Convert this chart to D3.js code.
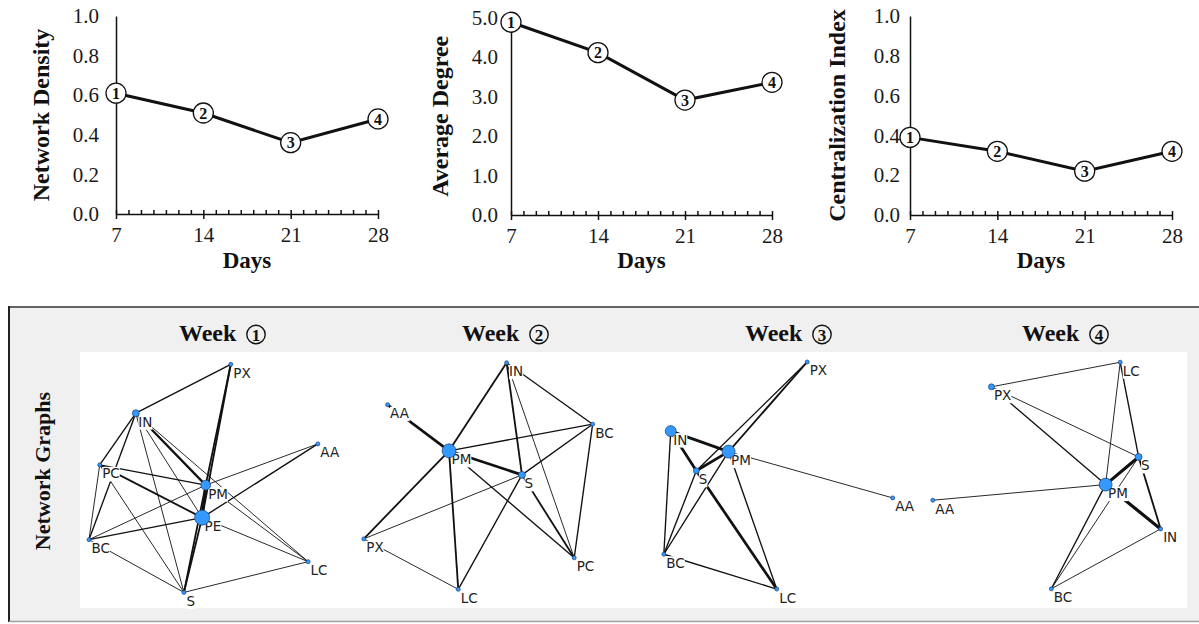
<!DOCTYPE html>
<html>
<head>
    <meta charset="utf-8">
    <title>network_weeks</title>
    <script type="text/javascript" src="https://cdn.jsdelivr.net/npm/d3@7/dist/d3.min.js"></script>
    <style>
        body { margin: 0; background: #fff; }
        .tick text { font-family: "Liberation Serif", "Times New Roman", serif; font-size: 21px; fill: #1a1a1a; }
        .domain, .tick line { stroke: #111; stroke-width: 1.5px; }
        .axis_title { font-family: "Liberation Serif", "Times New Roman", serif; font-size: 24px; font-weight: bold; fill: #111; }
        .days_title { font-family: "Liberation Serif", "Times New Roman", serif; font-size: 23px; font-weight: bold; fill: #111; }
        .mark_circle { fill: #fff; stroke: #111; stroke-width: 1.3px; }
        .mark_text { font-family: "Liberation Serif", "Times New Roman", serif; font-size: 16px; font-weight: bold; fill: #111; }
        .week_title { font-family: "Liberation Serif", "Times New Roman", serif; font-size: 24px; font-weight: bold; fill: #111; }
        .side_title { font-family: "Liberation Serif", "Times New Roman", serif; font-size: 22px; font-weight: bold; fill: #111; }
        .week_num { font-family: "Liberation Serif", "Times New Roman", serif; font-size: 17px; font-weight: bold; fill: #111; }
        .edge { stroke: #111; fill: none; }
        .node { fill: #3399ff; stroke: #1b3f73; stroke-width: 0.7px; }
        .node_lbl { font-family: "DejaVu Sans", Verdana, sans-serif; font-size: 13.5px; fill: #222; }
    </style>
</head>
<body>
<div id="svg_div"></div>
<script type="text/javascript">
    var width = 1199, height = 624;

    // line chart data
    var days = [7, 14, 21, 28],
        weekNo = ["1", "2", "3", "4"],
        density = [0.61, 0.51, 0.36, 0.48],
        avgDegree = [4.88, 4.11, 2.91, 3.36],
        centralization = [0.39, 0.32, 0.22, 0.32];
    var densityTicks = [0, 0.2, 0.4, 0.6, 0.8, 1.0],
        degreeTicks = [0, 1, 2, 3, 4, 5],
        centralTicks = [0, 0.2, 0.4, 0.6, 0.8, 1.0];

    // network layouts (layout units 0-100), node weight, edges [from, to, weight]
    var nodes1 = [["PX", 58.9, 4.8, 1], ["IN", 21.8, 23.9, 3], ["AA", 92.9, 35.9, 1], ["PC", 7.7, 44.1, 1],
                  ["PM", 49.1, 52.0, 6], ["PE", 47.7, 64.7, 14], ["BC", 3.5, 73.3, 1], ["LC", 89.1, 81.9, 1], ["S", 40.6, 93.9, 1]];
    var edges1 = [["IN", "PX", 1.5], ["PX", "PM", 2], ["PX", "PE", 2], ["PM", "PE", 3], ["PM", "S", 2], ["PE", "S", 2],
                  ["IN", "PC", 1.5], ["IN", "BC", 1.5], ["PC", "BC", 1], ["IN", "S", 1], ["IN", "PM", 2.5], ["IN", "PE", 1],
                  ["IN", "LC", 1], ["PC", "PM", 1.5], ["PC", "PE", 2], ["PC", "S", 1], ["BC", "PM", 1], ["BC", "PE", 1.5],
                  ["BC", "S", 1], ["AA", "PM", 1], ["AA", "PE", 1.5], ["PM", "LC", 1], ["PE", "LC", 1], ["LC", "S", 1]];

    var nodes2 = [["IN", 60.4, 4.2, 1], ["AA", 13.9, 20.6, 1], ["BC", 94.0, 28.2, 1], ["PM", 37.9, 38.6, 12],
                  ["S", 66.4, 48.0, 3], ["PX", 4.6, 73.0, 1], ["PC", 86.8, 80.4, 1], ["LC", 41.5, 92.7, 1]];
    var edges2 = [["AA", "PM", 3], ["PM", "IN", 2], ["PM", "BC", 1.5], ["PM", "S", 3], ["PM", "PX", 2], ["PM", "LC", 2],
                  ["PM", "PC", 1.5], ["IN", "S", 2], ["IN", "PC", 1], ["IN", "BC", 1.5], ["BC", "S", 1.5], ["BC", "PC", 1.5],
                  ["S", "PX", 1], ["S", "LC", 1.5], ["S", "PC", 2], ["PX", "LC", 1]];

    var nodes3 = [["PX", 61.4, 3.9, 1], ["IN", 8.1, 30.9, 7.5], ["PM", 30.7, 38.9, 10.5], ["S", 18.1, 46.4, 2.2],
                  ["AA", 94.8, 57.0, 1], ["BC", 5.4, 79.0, 1], ["LC", 49.5, 92.6, 1]];
    var edges3 = [["IN", "PM", 3], ["IN", "S", 3], ["IN", "BC", 1.5], ["PM", "S", 3], ["PM", "PX", 2], ["S", "PX", 1.5],
                  ["PM", "AA", 1], ["PM", "BC", 1.5], ["PM", "LC", 1.5], ["S", "BC", 1.5], ["S", "LC", 3], ["BC", "LC", 1.5]];

    var nodes4 = [["LC", 78.2, 4.0, 1], ["PX", 27.9, 13.6, 2.2], ["S", 85.4, 41.0, 3], ["PM", 72.5, 51.8, 10.5],
                  ["AA", 5.0, 57.9, 1], ["IN", 94.0, 69.1, 1], ["BC", 51.3, 92.5, 1]];
    var edges4 = [["PX", "LC", 1], ["LC", "PM", 1], ["LC", "S", 1.5], ["S", "IN", 2], ["PX", "S", 1], ["PX", "PM", 1.5],
                  ["AA", "PM", 1], ["PM", "S", 3.5], ["PM", "IN", 3.5], ["PM", "BC", 1.5], ["S", "BC", 1], ["IN", "BC", 1]];

    var svg = d3.select("#svg_div").append("svg")
        .attr("width", width)
        .attr("height", height);

    // ---------- top line charts ----------
    function lineChart(vals, ticks, yMax, label, x0, x1, y0, y1, labelX, pad) {
        var g = svg.append("g");
        var x = d3.scaleLinear().domain([7, 28]).range([x0, x1]);
        var y = d3.scaleLinear().domain([0, yMax]).range([y0, y1]);

        g.append("g")
            .attr("transform", "translate(" + x0 + ",0)")
            .call(d3.axisLeft(y).tickValues(ticks).tickSize(0).tickPadding(pad).tickFormat(d3.format(".1f")));

        // minor day ticks, pointing up
        g.append("g")
            .attr("transform", "translate(0," + y0 + ")")
            .call(d3.axisBottom(x).tickValues(d3.range(7, 29)).tickSize(-4).tickSizeOuter(0).tickFormat(""));
        // weekly ticks with labels
        var xa = g.append("g")
            .attr("transform", "translate(0," + y0 + ")")
            .call(d3.axisBottom(x).tickValues(days).tickSize(5).tickSizeOuter(0).tickPadding(8));
        xa.select(".domain").remove();

        g.append("text")
            .attr("class", "axis_title")
            .attr("text-anchor", "middle")
            .attr("transform", "translate(" + labelX + "," + (y0 + y1) / 2 + ") rotate(-90)")
            .attr("dy", "0.35em")
            .text(label);

        g.append("text")
            .attr("class", "days_title")
            .attr("text-anchor", "middle")
            .attr("x", (x0 + x1) / 2)
            .attr("y", 268)
            .text("Days");

        var pts = days.map(function(d, i) { return { day: d, v: vals[i], n: weekNo[i] }; });
        g.append("path")
            .datum(pts)
            .attr("fill", "none")
            .attr("stroke", "#111")
            .attr("stroke-width", 3)
            .attr("d", d3.line().x(function(d) { return x(d.day); }).y(function(d) { return y(d.v); }));

        var m = g.selectAll(".mark").data(pts).enter().append("g")
            .attr("class", "mark")
            .attr("transform", function(d) { return "translate(" + x(d.day) + "," + y(d.v) + ")"; });
        m.append("circle").attr("class", "mark_circle").attr("r", 10);
        m.append("text").attr("class", "mark_text")
            .attr("text-anchor", "middle").attr("dy", "0.35em")
            .text(function(d) { return d.n; });
    }

    lineChart(density, densityTicks, 1.0, "Network Density", 116, 378, 214, 16, 41, 17);
    lineChart(avgDegree, degreeTicks, 5.0, "Average Degree", 511, 772, 215, 17.5, 440, 13);
    lineChart(centralization, centralTicks, 1.0, "Centralization Index", 910, 1172, 215, 16, 837, 10);

    // ---------- network graph panel ----------
    var panel = svg.append("g");
    panel.append("rect")
        .attr("x", 9).attr("y", 307).attr("width", 1195).attr("height", 314)
        .attr("fill", "#f0f0f0");
    panel.append("line").attr("x1", 9).attr("x2", 1199).attr("y1", 307).attr("y2", 307)
        .attr("stroke", "#333").attr("stroke-width", 1.5);
    panel.append("line").attr("x1", 9).attr("x2", 9).attr("y1", 306).attr("y2", 622)
        .attr("stroke", "#222").attr("stroke-width", 2);
    panel.append("line").attr("x1", 9).attr("x2", 1199).attr("y1", 621.5).attr("y2", 621.5)
        .attr("stroke", "#a0a0a0").attr("stroke-width", 1.5);
    panel.append("rect")
        .attr("x", 80).attr("y", 352).attr("width", 1107).attr("height", 256)
        .attr("fill", "#fff");

    panel.append("text")
        .attr("class", "side_title")
        .attr("text-anchor", "middle")
        .attr("transform", "translate(42,471) rotate(-90)")
        .attr("dy", "0.35em")
        .text("Network Graphs");

    var weekCenters = [222, 505, 788, 1065];
    weekNo.forEach(function(n, i) {
        var t = panel.append("g").attr("transform", "translate(" + weekCenters[i] + ",0)");
        t.append("text").attr("class", "week_title")
            .attr("x", -43).attr("y", 341)
            .text("Week");
        t.append("circle").attr("cx", 34).attr("cy", 334.5).attr("r", 9.2)
            .attr("fill", "none").attr("stroke", "#111").attr("stroke-width", 1.4);
        t.append("text").attr("class", "week_num")
            .attr("x", 34).attr("y", 335).attr("dy", "0.35em").attr("text-anchor", "middle")
            .text(n);
    });

    var rScale = d3.scaleSqrt().domain([0, 14]).range([0, 7.5]);
    var wScale = d3.scaleLinear().domain([1, 3.5]).range([0.9, 3.2]);
    var gy = d3.scaleLinear().domain([0, 100]).range([352, 608]);
    var cellX = [80, 352, 650, 920];

    function drawNet(nodes, edges, i) {
        var gx = d3.scaleLinear().domain([0, 100]).range([cellX[i], cellX[i] + 256]);
        var byId = {};
        nodes.forEach(function(n) { byId[n[0]] = n; });
        var g = panel.append("g");

        g.selectAll(".edge").data(edges).enter().append("line")
            .attr("class", "edge")
            .attr("x1", function(e) { return gx(byId[e[0]][1]); })
            .attr("y1", function(e) { return gy(byId[e[0]][2]); })
            .attr("x2", function(e) { return gx(byId[e[1]][1]); })
            .attr("y2", function(e) { return gy(byId[e[1]][2]); })
            .attr("stroke-width", function(e) { return wScale(e[2]); });

        var lbl = g.selectAll(".lbl").data(nodes).enter().append("g")
            .attr("transform", function(d) { return "translate(" + gx(d[1]) + "," + gy(d[2]) + ")"; });
        lbl.append("text").attr("class", "node_lbl")
            .attr("x", 2.5).attr("y", 13.5)
            .text(function(d) { return d[0]; });
        lbl.insert("rect", "text")
            .attr("fill", "#fff")
            .each(function() {
                var bb = this.parentNode.querySelector("text").getBBox();
                d3.select(this).attr("x", bb.x).attr("y", bb.y + 1.5).attr("width", bb.width).attr("height", bb.height - 1.5);
            });

        g.selectAll(".node").data(nodes).enter().append("circle")
            .attr("class", "node")
            .attr("cx", function(d) { return gx(d[1]); })
            .attr("cy", function(d) { return gy(d[2]); })
            .attr("r", function(d) { return rScale(d[3]); });
    }

    drawNet(nodes1, edges1, 0);
    drawNet(nodes2, edges2, 1);
    drawNet(nodes3, edges3, 2);
    drawNet(nodes4, edges4, 3);
</script>
</body>
</html>
